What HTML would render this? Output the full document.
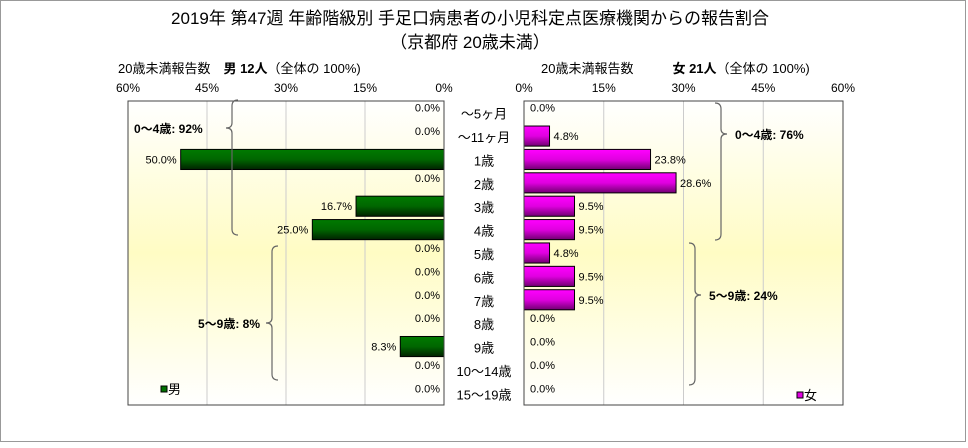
<!DOCTYPE html>
<html><head><meta charset="utf-8"><style>
html,body{margin:0;padding:0;background:#fff;}
body{width:968px;height:443px;overflow:hidden;font-family:"Liberation Sans","Noto Sans CJK JP",sans-serif;}
svg text{font-family:"Liberation Sans","Noto Sans CJK JP",sans-serif;}
</style></head><body>
<svg id="chart" width="968" height="443" xmlns="http://www.w3.org/2000/svg">
<defs>
<linearGradient id="bg" x1="0" y1="0" x2="0" y2="1">
<stop offset="0" stop-color="#ffffff"/><stop offset="0.5" stop-color="#fffcc4"/><stop offset="1" stop-color="#ffffff"/>
</linearGradient>
<linearGradient id="gm" x1="0" y1="0" x2="0" y2="1"><stop offset="0" stop-color="#007a00"/><stop offset="0.5" stop-color="#006600"/><stop offset="1" stop-color="#002200"/></linearGradient>
<linearGradient id="gf" x1="0" y1="0" x2="0" y2="1"><stop offset="0" stop-color="#ff00ff"/><stop offset="0.5" stop-color="#e000e0"/><stop offset="1" stop-color="#700070"/></linearGradient>
</defs>
<rect x="0.5" y="0.5" width="965" height="441" fill="none" stroke="#999"/>
<text x="470" y="24" font-size="17" text-anchor="middle">2019年 第47週 年齢階級別 手足口病患者の小児科定点医療機関からの報告割合</text>
<text x="470" y="48" font-size="17" text-anchor="middle">（京都府 20歳未満）</text>
<text x="118" y="73" font-size="13">20歳未満報告数　<tspan font-weight="bold">男  12人</tspan>（全体の  100%)</text>
<text x="541" y="73" font-size="13">20歳未満報告数　　　<tspan font-weight="bold">女  21人</tspan>（全体の  100%)</text>
<g id="plots"></g>
</svg>
<script>
const categories=["～5ヶ月","～11ヶ月","1歳","2歳","3歳","4歳","5歳","6歳","7歳","8歳","9歳","10～14歳","15～19歳"];
const maleValues=[0,0,50.0,0,16.7,25.0,0,0,0,0,8.3,0,0];
const femaleValues=[0,4.8,23.8,28.6,9.5,9.5,4.8,9.5,9.5,0,0,0,0];
const tickValues=[0,15,30,45,60];
const NS="http://www.w3.org/2000/svg";
const g=document.getElementById('plots');
function mk(tag,attrs,parent){const e=document.createElementNS(NS,tag);for(const k in attrs)e.setAttribute(k,attrs[k]);(parent||g).appendChild(e);return e;}
const plotTop=101,plotBottom=405,nRows=categories.length,rowH=(plotBottom-plotTop)/nRows;
const L={x0:444,x1:128},R={x0:524,x1:843};
function xL(v){return L.x0-(L.x0-L.x1)*v/60;}
function xR(v){return R.x0+(R.x1-R.x0)*v/60;}
function yc(i){return plotTop+rowH*(i+0.5);}
const bgL=mk('rect',{x:L.x1,y:plotTop,width:L.x0-L.x1,height:plotBottom-plotTop,fill:'url(#bg)'});


const bgR=mk('rect',{x:R.x0,y:plotTop,width:R.x1-R.x0,height:plotBottom-plotTop,fill:'url(#bg)'});


tickValues.forEach(t=>{
  const a=mk('line',{x1:xL(t),x2:xL(t),y1:plotTop,y2:plotBottom,stroke:'#ccc'});
  
  
  const b=mk('line',{x1:xR(t),x2:xR(t),y1:plotTop,y2:plotBottom,stroke:'#ccc'});
  
  
  const ta=mk('text',{x:xL(t),y:92,'font-size':12,'text-anchor':'middle'});ta.textContent=t+'%';
  
  
  const tb=mk('text',{x:xR(t),y:92,'font-size':12,'text-anchor':'middle'});tb.textContent=t+'%';
  
  
});
categories.forEach((c,i)=>{
  const y=yc(i),bh=rowH*0.86;
  const mv=maleValues[i],fv=femaleValues[i];
  if(mv>0){const r=mk('rect',{x:xL(mv),y:y-bh/2,width:L.x0-xL(mv),height:bh,fill:'url(#gm)',stroke:'#000'});
    
    }
  if(fv>0){const r=mk('rect',{x:R.x0,y:y-bh/2,width:xR(fv)-R.x0,height:bh,fill:'url(#gf)',stroke:'#000'});
    
    }
  const ml=mk('text',{x:mv>0?xL(mv)-4:440,y:y-(mv>0?0:5)+4,'font-size':11,'text-anchor':'end'});ml.textContent=mv.toFixed(1)+'%';
  
  
  const fl=mk('text',{x:fv>0?xR(fv)+4:530,y:y-(fv>0?0:5)+4,'font-size':11});fl.textContent=fv.toFixed(1)+'%';
  
  
  const cl=mk('text',{x:484,y:y+6,'font-size':13,'text-anchor':'middle'});cl.textContent=c;
  
  
});
const fL=mk('rect',{x:L.x1,y:plotTop,width:L.x0-L.x1,height:plotBottom-plotTop,fill:'none',stroke:'#444'});


const fR=mk('rect',{x:R.x0,y:plotTop,width:R.x1-R.x0,height:plotBottom-plotTop,fill:'none',stroke:'#444'});


function brace(x,y1,y2,ym,dir){
  const d=dir*6;
  return `M${x-d} ${y1} Q${x} ${y1} ${x} ${y1+6} L${x} ${ym-5} Q${x} ${ym} ${x+d} ${ym} Q${x} ${ym} ${x} ${ym+5} L${x} ${y2-6} Q${x} ${y2} ${x-d} ${y2}`;
}
[[232,100,235,128,-1,'male-0-4-brace'],[272,246,380,323,-1,'male-5-9-brace'],[721,103,240,134,1,'female-0-4-brace'],[695,243,385,295,1,'female-5-9-brace']].forEach(b=>{
  const p=mk('path',{d:brace(b[0],b[1],b[2],b[3],b[4]),fill:'none',stroke:'#666','stroke-width':1.2});
  
  
});
[[134,133,'start','0～4歳: 92%','male-0-4-annotation'],[260,328,'end','5～9歳: 8%','male-5-9-annotation'],[735,139,'start','0～4歳: 76%','female-0-4-annotation'],[709,300,'start','5～9歳: 24%','female-5-9-annotation']].forEach(a=>{
  const t=mk('text',{x:a[0],y:a[1],'font-size':12,'font-weight':'bold','text-anchor':a[2]});t.textContent=a[3];
  
  
});
const lm=mk('rect',{x:161,y:386,width:6,height:6,fill:'#007000',stroke:'#000'});


const lmt=mk('text',{x:168,y:394,'font-size':13});lmt.textContent='男';


const lf=mk('rect',{x:797,y:392,width:6,height:6,fill:'#e000e0',stroke:'#000'});


const lft=mk('text',{x:804,y:400,'font-size':13});lft.textContent='女';


</script>
</body></html>
